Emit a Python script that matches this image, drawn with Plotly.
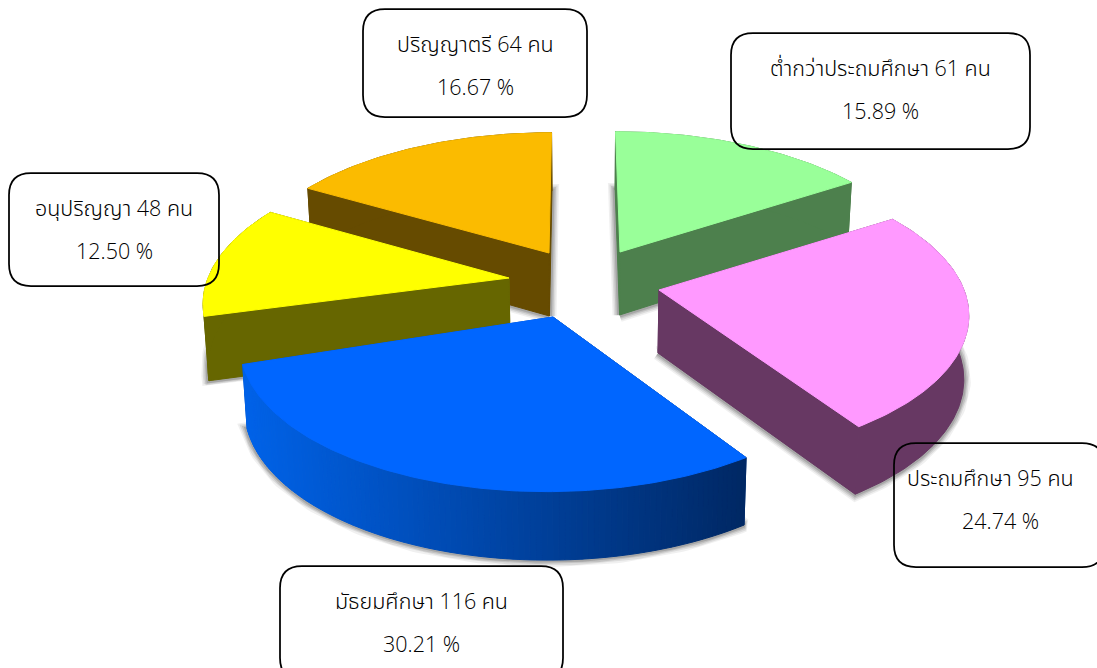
import math
import plotly.graph_objects as go

# Data (clockwise from 12 o'clock)
categories = ["ต่ำกว่าประถมศึกษา", "ประถมศึกษา", "มัธยมศึกษา", "อนุปริญญา", "ปริญญาตรี"]
counts = [61, 95, 116, 48, 64]
percents = ["15.89", "24.74", "30.21", "12.50", "16.67"]

# Styles
top_colors = ["#99ff99", "#ff99ff", "#0066ff", "#ffff00", "#fbbb00"]
side_colors = ["#4d804d", "#673863", None, "#666600", "#664b00"]
apexes = [(620, 252), (659, 290), (553, 317), (509, 278), (549, 253)]
radii_x = [303, 305, 308, 301, 303]
radii_y = [140, 142, 146, 142, 140]
convergence = [0.9, 0.3, 1.0, 0.4, 0.5]
end_nudge_deg = [0, 0, -3.0, 0, 0]
draw_order = [4, 0, 3, 1, 2]
boxes = [(731, 33, 1030, 149), (894, 443, 1104, 567), (280, 566, 563, 680),
         (9, 173, 219, 286), (363, 9, 587, 117)]
line_centers = [(880, 880), (990, 1000), (421, 421), (114, 114), (475, 475)]
PERSP, DEPTH, DEPTH_P, SHRINK, VX = 0.164, 63, 0.08, 0.013, 585
FONT = "Open Sans, Noto Sans Thai, Noto Sans, sans-serif"

total = sum(counts)
fig = go.Figure()


def top_pt(i, ang):
    apex = apexes[i]
    u, v = math.sin(ang), math.cos(ang)
    f = 1 / (1 + PERSP * v)
    return (apex[0] + radii_x[i] * u * f + (VX - apex[0]) * (1 - f) * convergence[i],
            apex[1] - radii_y[i] * v * f, v)


def drop(p):
    x, y, v = p
    return x + (VX - x) * SHRINK, y + DEPTH / (1 + DEPTH_P * v), v


def poly(pts, color, line=None, width=1):
    xs = [p[0] for p in pts] + [pts[0][0]]
    ys = [p[1] for p in pts] + [pts[0][1]]
    fig.add_trace(go.Scatter(x=xs, y=ys, mode="lines", fill="toself", fillcolor=color,
                             line=dict(color=line or color, width=width),
                             hoverinfo="skip", showlegend=False))


def lerp_blue(x):
    t = min(1, max(0, (x - 245) / 500))
    a, b = (0, 98, 232), (0, 40, 100)
    return "rgb(%d,%d,%d)" % tuple(round(a[i] + (b[i] - a[i]) * t) for i in range(3))


# Slice geometry from the counts
slices = []
acc = 0.0
for i, c in enumerate(counts):
    a0 = acc / total * 2 * math.pi
    acc += c
    a1 = acc / total * 2 * math.pi + math.radians(end_nudge_deg[i])
    n = max(16, int(c))
    arc = [top_pt(i, a0 + (a1 - a0) * k / n) for k in range(n + 1)]
    slices.append((apexes[i], arc))

# Soft shadows below the bottom faces
for i in draw_order:
    ap, arc = slices[i]
    bottom = [drop((ap[0], ap[1], 0))] + [drop(p) for p in arc]
    for w, alpha in [(14, 0.08), (11, 0.12), (8, 0.16), (5, 0.22)]:
        poly(bottom, "rgba(70,70,70,%.2f)" % alpha, "rgba(70,70,70,%.2f)" % alpha, w)

# Slices, back to front
for i in draw_order:
    ap, arc = slices[i]
    c0 = (ap[0], ap[1], 0.0)
    side = side_colors[i]
    faces = []
    for end in (arc[0], arc[-1]):
        faces.append(((end[2]) / 2, [c0, end, drop(end), drop(c0)]))
    faces.sort(key=lambda f: -f[0])
    for _, pts in faces:
        poly(pts, side or lerp_blue((pts[0][0] + pts[1][0]) / 2))
    if side:
        poly(arc + [drop(p) for p in reversed(arc)], side)
    else:
        for a, b in zip(arc[:-1], arc[1:]):
            col = lerp_blue((a[0] + b[0]) / 2)
            poly([a, b, drop(b), drop(a)], col)
    poly([c0] + arc, top_colors[i])

# Callout boxes and labels
R = 22
for (x0, y0, x1, y1), (c1, c2), name, cnt, pct in zip(boxes, line_centers, categories, counts, percents):
    path = (f"M {x0+R} {y0} L {x1-R} {y0} Q {x1} {y0} {x1} {y0+R} L {x1} {y1-R} "
            f"Q {x1} {y1} {x1-R} {y1} L {x0+R} {y1} Q {x0} {y1} {x0} {y1-R} "
            f"L {x0} {y0+R} Q {x0} {y0} {x0+R} {y0} Z")
    fig.add_shape(type="path", path=path, xref="x", yref="y",
                  line=dict(color="#000000", width=1.75), fillcolor="rgba(0,0,0,0)")
    fig.add_annotation(x=c1, y=y0 + 34, text=f"{name} {cnt} คน", showarrow=False,
                       font=dict(family=FONT, size=21.5, color="#000000", weight=300))
    fig.add_annotation(x=c2, y=y0 + 77, text=f"{pct} %", showarrow=False,
                       font=dict(family=FONT, size=21.5, color="#000000", weight=300))

fig.update_layout(
    width=1097, height=668, margin=dict(l=0, r=0, t=0, b=0),
    paper_bgcolor="white", plot_bgcolor="white", showlegend=False,
    xaxis=dict(range=[0, 1097], visible=False, fixedrange=True),
    yaxis=dict(range=[668, 0], visible=False, fixedrange=True),
)
fig.write_html("out.html", config={"displayModeBar": False},
               post_script="document.body.style.margin='0';document.documentElement.style.overflow='hidden';")
